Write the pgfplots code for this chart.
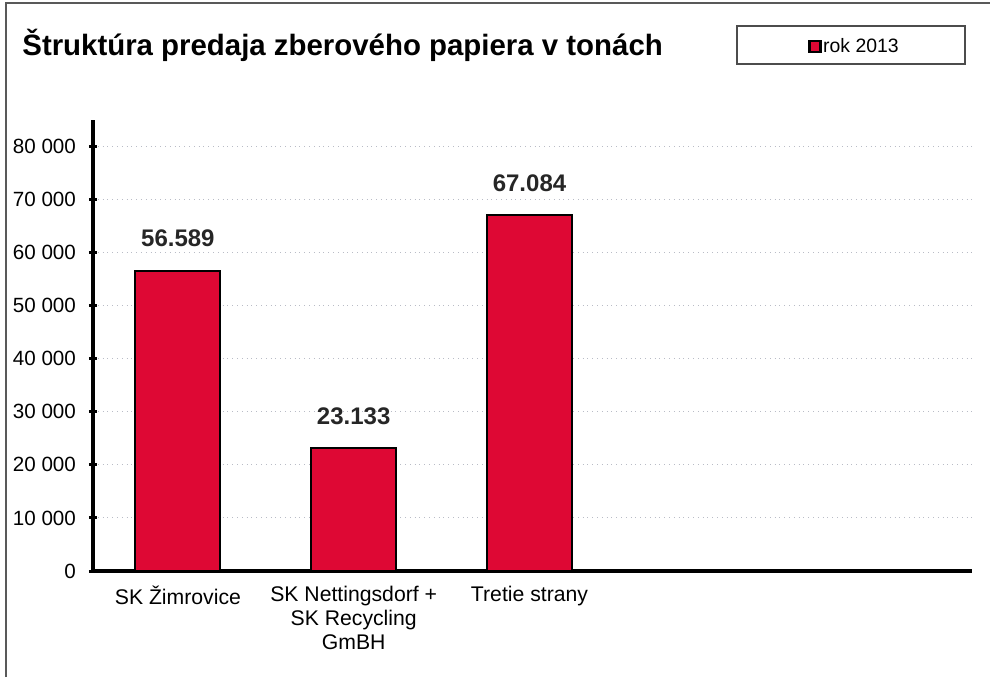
\documentclass[border=0pt]{standalone}
\usepackage{pgfplots}
\pgfplotsset{compat=1.18}
\usepackage{fontspec}
\setmainfont{Liberation Sans}
\definecolor{barred}{RGB}{222,8,52}
\definecolor{gridgray}{RGB}{185,188,198}
\begin{document}
\begin{tikzpicture}[x=1pt,y=1pt]
\path[use as bounding box] (0,0) rectangle (495,338.5);
\draw[line width=0.8pt, black!65] (3,0) -- (3,337) -- (495,337);
\node[anchor=base west, font=\bfseries\fontsize{14.7}{16}\selectfont, inner sep=0pt] at (11,311) {Štruktúra predaja zberového papiera v tonách};
\draw[line width=0.8pt, black!70] (368.5,306.5) rectangle (482.5,325.5);
\begin{axis}[
  at={(46.5pt,53pt)}, anchor=south west,
  scale only axis, width=439.5pt, height=225.5pt,
  xmin=-0.5, xmax=4.5, ymin=0, ymax=85000,
  scaled y ticks=false,
  ybar, bar width=42.5pt, bar shift=-1.5pt,
  axis x line*=bottom, axis y line*=left,
  axis line style={line width=1.8pt, -},
  xtick={0,1,2},
  xticklabels={SK Žimrovice, {SK Nettingsdorf +\\SK Recycling\\GmBH}, Tretie strany},
  xticklabel style={align=center, font=\fontsize{10.6}{12}\selectfont, yshift=-2pt, xshift=-1.5pt},
  xtick style={draw=none},
  extra x ticks={0.5,1.5,2.5,3.5,4.5},
  extra x tick labels={},
  extra x tick style={grid=none, tick style={draw=black, line width=1.5pt}, major tick length=3.5pt, tick align=outside},
  ytick={0,10000,...,80000},
  yticklabels={0,10 000,20 000,30 000,40 000,50 000,60 000,70 000,80 000},
  yticklabel style={font=\fontsize{10.3}{12}\selectfont, xshift=-3pt},
  ytick style={draw=black, line width=1.5pt},
  major tick length=4pt, tick align=center,
  ymajorgrids, grid style={gridgray, dotted, line width=0.5pt},
  point meta=explicit symbolic,
  nodes near coords,
  nodes near coords style={font=\bfseries\fontsize{12}{14}\selectfont, anchor=south, yshift=8pt, black!85},
  legend style={draw=none, fill=none, at={(0.8134,1.163)}, anchor=west, font=\fontsize{9.7}{11}\selectfont, inner sep=0pt, nodes={inner sep=0.8pt}},
  legend image code/.code={\draw[fill=barred, draw=black, line width=1.1pt] (0.5pt,-2.8pt) rectangle (6pt,2.8pt);},
  legend cell align=left,
]
\addplot[fill=barred, draw=black, line width=1pt] coordinates {(0,56589) [56.589] (1,23133) [23.133] (2,67084) [67.084]};
\addlegendentry{rok 2013}
\end{axis}
\end{tikzpicture}
\end{document}
